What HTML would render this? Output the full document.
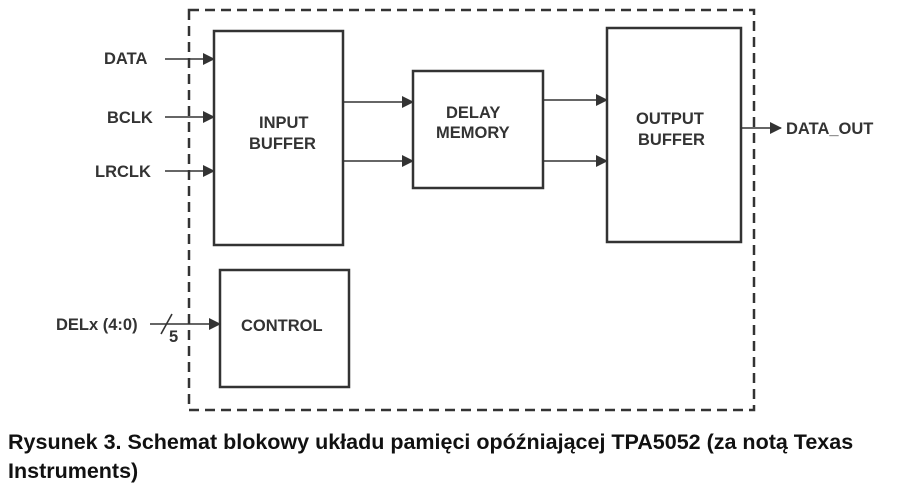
<!DOCTYPE html>
<html><head><style>
body{margin:0;background:#fff;width:900px;height:494px;overflow:hidden;}
svg{position:absolute;left:0;top:0}
.cap{position:absolute;left:8px;top:428px;width:880px;font-family:"Liberation Sans",sans-serif;font-weight:bold;font-size:21.5px;line-height:29px;color:#111;letter-spacing:0px}
</style></head><body>
<svg width="900" height="494" viewBox="0 0 900 494" font-family="Liberation Sans, sans-serif" font-weight="bold" fill="#333">
<defs><marker id="a" markerWidth="12" markerHeight="12" refX="11" refY="6" orient="auto" markerUnits="userSpaceOnUse"><path d="M0,0 L12,6 L0,12 z" fill="#333"/></marker></defs>
<rect x="189" y="10" width="565" height="400" fill="none" stroke="#333" stroke-width="2.5" stroke-dasharray="10,6"/>
<g fill="none" stroke="#333" stroke-width="2.5">
<rect x="214" y="31" width="129" height="214"/>
<rect x="413" y="71" width="130" height="117"/>
<rect x="607" y="28" width="134" height="214"/>
<rect x="220" y="270" width="129" height="117"/>
</g>
<g stroke="#333" stroke-width="1.6" marker-end="url(#a)">
<line x1="165" y1="59" x2="214" y2="59"/>
<line x1="165" y1="117" x2="214" y2="117"/>
<line x1="165" y1="171" x2="214" y2="171"/>
<line x1="343" y1="102" x2="413" y2="102"/>
<line x1="343" y1="161" x2="413" y2="161"/>
<line x1="543" y1="100" x2="607" y2="100"/>
<line x1="543" y1="161" x2="607" y2="161"/>
<line x1="741" y1="128" x2="781" y2="128"/>
<line x1="150" y1="324" x2="220" y2="324"/>
</g>
<line x1="161" y1="334" x2="172" y2="314" stroke="#333" stroke-width="1.6"/>
<g font-size="16.5">
<text x="104" y="64">DATA</text>
<text x="107" y="123">BCLK</text>
<text x="95" y="177">LRCLK</text>
<text x="56" y="330">DELx (4:0)</text>
<text x="169" y="342">5</text>
<text x="786" y="134">DATA_OUT</text>
<text x="259" y="128">INPUT</text>
<text x="249" y="149">BUFFER</text>
<text x="446" y="118">DELAY</text>
<text x="436" y="138">MEMORY</text>
<text x="636" y="124">OUTPUT</text>
<text x="638" y="145">BUFFER</text>
<text x="241" y="331">CONTROL</text>
</g>
</svg>
<div class="cap">Rysunek 3. Schemat blokowy układu pamięci opóźniającej TPA5052 (za notą Texas<br>Instruments)</div>
</body></html>
